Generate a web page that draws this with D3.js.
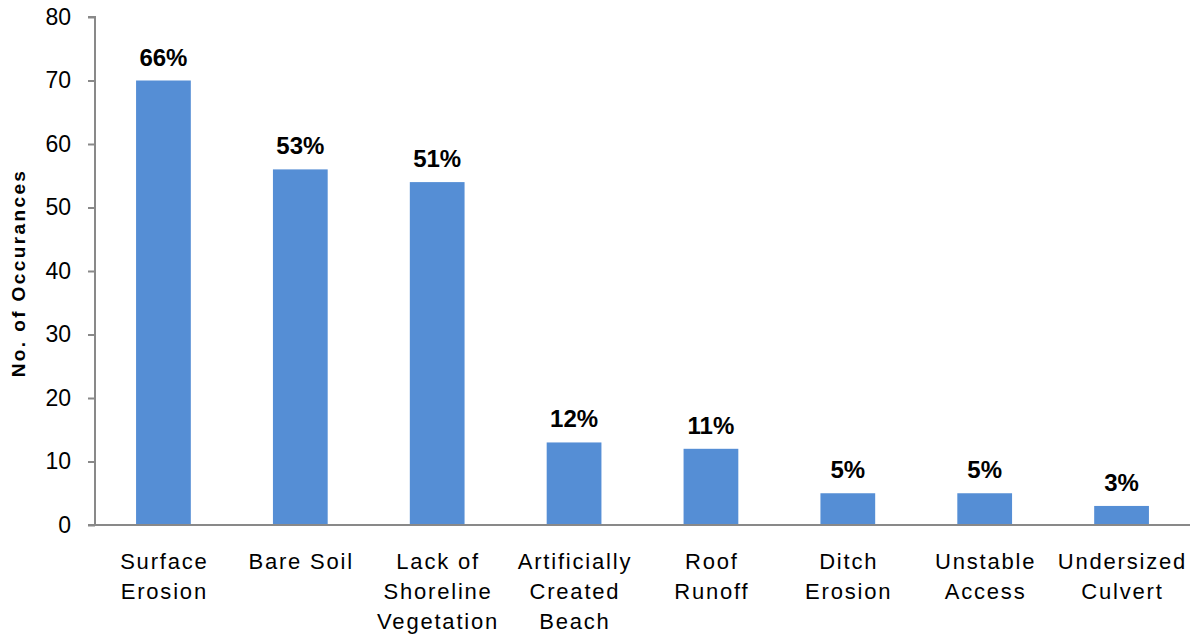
<!DOCTYPE html>
<html><head><meta charset="utf-8">
<script src="https://cdn.jsdelivr.net/npm/d3@7"></script>
<style>body{margin:0;background:#fff;}svg{display:block;font-family:"Liberation Sans",Arial,sans-serif;}</style>
</head><body>
<script>
const categories = [["Surface","Erosion"],["Bare Soil"],["Lack of","Shoreline","Vegetation"],["Artificially","Created","Beach"],["Roof","Runoff"],["Ditch","Erosion"],["Unstable","Access"],["Undersized","Culvert"]];
const values = [70, 56, 54, 13, 12, 5, 5, 3];
const percentLabels = ["66%","53%","51%","12%","11%","5%","5%","3%"];
const yTicks = [0,10,20,30,40,50,60,70,80];

const W = 1193, H = 635;
const m = {left: 95, right: 3, top: 17, bottom: 110};
const svg = d3.select("body").append("svg").attr("width", W).attr("height", H);

const x = d3.scaleBand().domain(d3.range(categories.length)).range([m.left, W - m.right]).paddingInner(0.6).paddingOuter(0.3);
const y = d3.scaleLinear().domain([0, 80]).range([H - m.bottom, m.top]);

svg.selectAll("rect.bar").data(values).join("rect").attr("class","bar")
  .attr("x", (d,i) => x(i)).attr("width", x.bandwidth())
  .attr("y", d => y(d)).attr("height", d => y(0) - y(d))
  .attr("fill", "#558ED5");

svg.selectAll("text.pl").data(values).join("text").attr("class","pl")
  .attr("x", (d,i) => x(i) + x.bandwidth()/2).attr("y", d => y(d) - 15)
  .attr("text-anchor","middle").attr("font-size", 24).attr("font-weight","bold").attr("fill","#000")
  .text((d,i) => percentLabels[i]);

const yAxis = svg.append("g").attr("transform", `translate(${m.left},0)`)
  .call(d3.axisLeft(y).tickValues(yTicks).tickSize(7).tickPadding(17));
yAxis.select(".domain").attr("stroke","#898989").attr("stroke-width",2).attr("d", `M-7,${y(80)}H0V${y(0)}`);
yAxis.selectAll(".tick line").attr("stroke","#898989").attr("stroke-width",2);
yAxis.selectAll(".tick text").attr("font-size", 23).attr("fill","#000").attr("font-family","Liberation Sans, Arial, sans-serif");

svg.append("line").attr("x1", m.left - 7).attr("x2", W - m.right).attr("y1", y(0)).attr("y2", y(0))
  .attr("stroke","#898989").attr("stroke-width",2);

const xl = svg.selectAll("text.xl").data(categories).join("text").attr("class","xl")
  .attr("x", (d,i) => x(i) + x.bandwidth()/2).attr("y", y(0) + 44)
  .attr("text-anchor","middle").attr("font-size", 22).attr("letter-spacing", 1.8).attr("fill","#000");
xl.each(function(d){
  const t = d3.select(this);
  d.forEach((line, j) => t.append("tspan").attr("x", +t.attr("x") + 0.9).attr("dy", j === 0 ? 0 : 30).text(line));
});

svg.append("text").attr("transform", `translate(25,273) rotate(-90)`)
  .attr("text-anchor","middle").attr("font-size", 19).attr("letter-spacing", 2.4).attr("font-weight","bold").attr("fill","#000")
  .text("No. of Occurances");
</script>
</body></html>
